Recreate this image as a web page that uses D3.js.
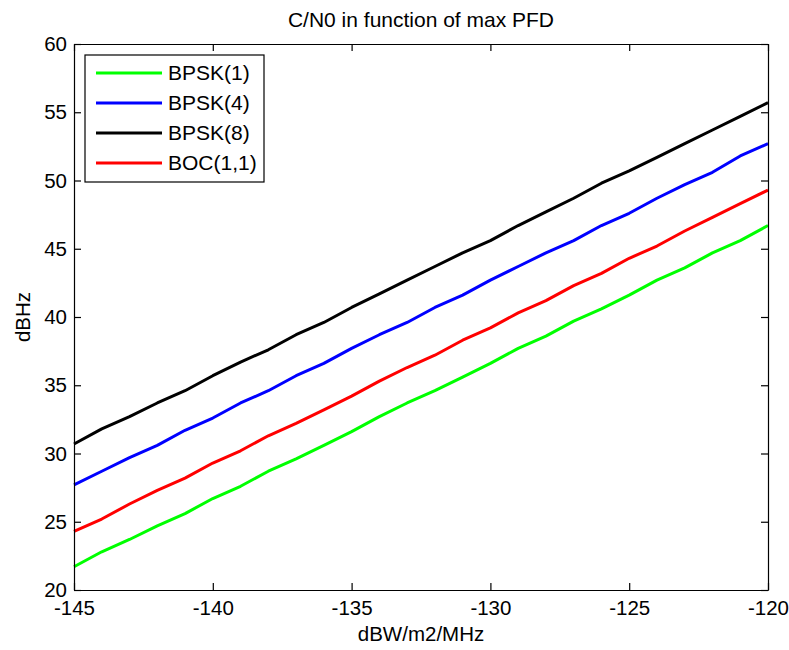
<!DOCTYPE html>
<html>
<head>
<meta charset="utf-8">
<script src="https://cdn.jsdelivr.net/npm/d3@7"></script>
<style>
  body { margin: 0; background: #fff; }
  svg { display: block; font-family: "Liberation Sans", Arial, sans-serif; }
  .axis path, .axis line { stroke: #000; stroke-width: 1.2; }
  .axis text { font-size: 20.5px; fill: #000; }
</style>
</head>
<body>
<div id="chart"></div>
<script>
const pfd = [-145, -144, -143, -142, -141, -140, -139, -138, -137, -136, -135, -134, -133,
  -132, -131, -130, -129, -128, -127, -126, -125, -124, -123, -122, -121, -120];

const seriesNames = ['BPSK(1)', 'BPSK(4)', 'BPSK(8)', 'BOC(1,1)'];
const seriesColors = ['#00ff00', '#0000ff', '#000000', '#ff0000'];

const bpsk1 = [21.7, 22.8, 23.7, 24.7, 25.6, 26.7, 27.6, 28.7, 29.6, 30.6, 31.6, 32.7, 33.7,
  34.6, 35.6, 36.6, 37.7, 38.6, 39.7, 40.6, 41.6, 42.7, 43.6, 44.7, 45.6, 46.7];
const bpsk4 = [27.7, 28.7, 29.7, 30.6, 31.7, 32.6, 33.7, 34.6, 35.7, 36.6, 37.7, 38.7, 39.6,
  40.7, 41.6, 42.7, 43.7, 44.7, 45.6, 46.7, 47.6, 48.7, 49.7, 50.6, 51.8, 52.7];
const bpsk8 = [30.7, 31.8, 32.7, 33.7, 34.6, 35.7, 36.7, 37.6, 38.7, 39.6, 40.7, 41.7, 42.7,
  43.7, 44.7, 45.6, 46.7, 47.7, 48.7, 49.8, 50.7, 51.7, 52.7, 53.7, 54.7, 55.7];
const boc11 = [24.3, 25.2, 26.3, 27.3, 28.2, 29.3, 30.2, 31.3, 32.2, 33.2, 34.2, 35.3, 36.3,
  37.2, 38.3, 39.2, 40.3, 41.2, 42.3, 43.2, 44.3, 45.2, 46.3, 47.3, 48.3, 49.3];

const xTicks = [-145, -140, -135, -130, -125, -120];
const yTicks = [20, 25, 30, 35, 40, 45, 50, 55, 60];

const config = {
  width: 789,
  height: 650,
  margins: { top: 44, right: 21, bottom: 60, left: 74 }
};

const innerW = config.width - config.margins.left - config.margins.right;
const innerH = config.height - config.margins.top - config.margins.bottom;

const svg = d3.select('#chart').append('svg')
  .attr('width', config.width)
  .attr('height', config.height);

const g = svg.append('g')
  .attr('transform', `translate(${config.margins.left}, ${config.margins.top})`);

const x = d3.scaleLinear().domain([-145, -120]).range([0, innerW]);
const y = d3.scaleLinear().domain([20, 60]).range([innerH, 0]);

// lines
const allSeries = [bpsk1, bpsk4, bpsk8, boc11];
const line = d3.line()
  .x((d, i) => x(pfd[i]))
  .y(d => y(d));

g.selectAll('path.series')
  .data(allSeries)
  .join('path')
    .attr('class', 'series')
    .attr('fill', 'none')
    .attr('stroke', (d, i) => seriesColors[i])
    .attr('stroke-width', 3)
    .attr('stroke-linejoin', 'round')
    .attr('d', line);

// axes, ticks pointing inward, box all around
g.append('g')
  .attr('class', 'axis')
  .attr('transform', `translate(0, ${innerH})`)
  .call(d3.axisBottom(x).tickValues(xTicks).tickSizeInner(-7).tickSizeOuter(0).tickPadding(10)
    .tickFormat(d => String(d)));

g.append('g')
  .attr('class', 'axis')
  .call(d3.axisLeft(y).tickValues(yTicks).tickSizeInner(-7).tickSizeOuter(0).tickPadding(7));

g.append('g')
  .attr('class', 'axis')
  .call(d3.axisTop(x).tickValues(xTicks).tickSizeInner(-7).tickSizeOuter(0).tickFormat(''));

g.append('g')
  .attr('class', 'axis')
  .attr('transform', `translate(${innerW}, 0)`)
  .call(d3.axisRight(y).tickValues(yTicks).tickSizeInner(-7).tickSizeOuter(0).tickFormat(''));

g.selectAll('.axis').attr('font-family', null).attr('font-size', null);

// title and axis labels
svg.append('text')
  .attr('x', config.margins.left + innerW / 2)
  .attr('y', 27)
  .attr('text-anchor', 'middle')
  .attr('font-size', 21)
  .text('C/N0 in function of max PFD');

svg.append('text')
  .attr('x', config.margins.left + innerW / 2)
  .attr('y', 641)
  .attr('text-anchor', 'middle')
  .attr('font-size', 20.5)
  .text('dBW/m2/MHz');

svg.append('text')
  .attr('transform', `translate(30, ${config.margins.top + innerH / 2}) rotate(-90)`)
  .attr('text-anchor', 'middle')
  .attr('font-size', 20.5)
  .text('dBHz');

// legend
const legend = g.append('g')
  .attr('transform', 'translate(11, 11)');

legend.append('rect')
  .attr('width', 179)
  .attr('height', 127)
  .attr('fill', '#fff')
  .attr('stroke', '#000')
  .attr('stroke-width', 1.2);

const item = legend.selectAll('g.item')
  .data(seriesNames)
  .join('g')
    .attr('class', 'item')
    .attr('transform', (d, i) => `translate(0, ${18 + i * 30})`);

item.append('line')
  .attr('x1', 11)
  .attr('x2', 77)
  .attr('stroke', (d, i) => seriesColors[i])
  .attr('stroke-width', 3);

item.append('text')
  .attr('x', 83)
  .attr('dy', '0.35em')
  .attr('font-size', 21)
  .text(d => d);
</script>
</body>
</html>
